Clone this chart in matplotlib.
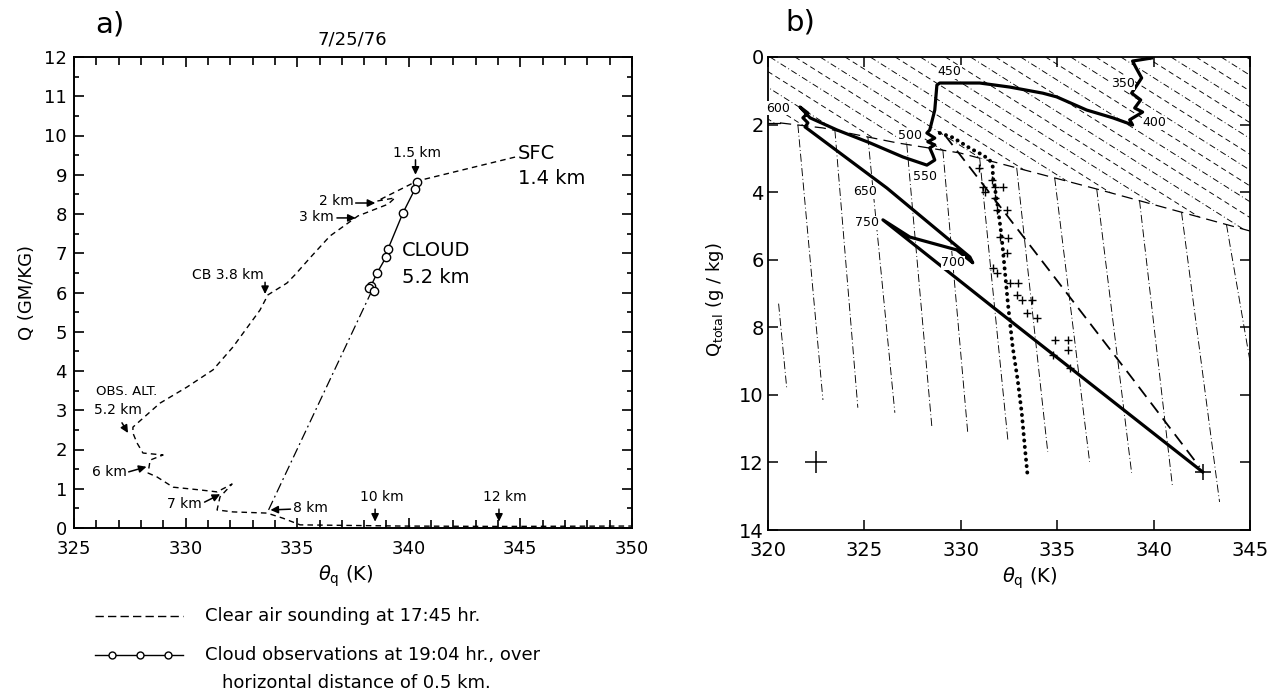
import numpy as np
import matplotlib
matplotlib.use('Agg')
from matplotlib import pyplot as plt
from matplotlib.lines import Line2D
from matplotlib.patches import Polygon
from matplotlib.ticker import MultipleLocator

W, H = 1283, 694

# ---- panel a: 7/25/76 ----
# clear air sounding at 17:45 (theta_q K, Q g/kg), from SFC upward
sounding_theta = [344.76, 340.37, 338.58, 339.38, 339.07, 337.72, 336.47, 335.57, 334.90, 334.54,
                  333.69, 333.33, 332.12, 331.23, 330.06, 328.85, 327.64, 327.64, 327.82, 328.09,
                  328.99, 328.41, 328.32, 328.72, 329.44, 330.65, 331.41, 332.08, 331.54, 331.41,
                  332.12, 333.65, 334.36, 335.13, 339.60, 344.10, 350.00]
sounding_q = [9.45, 8.84, 8.33, 8.41, 8.25, 7.95, 7.44, 6.88, 6.45, 6.24,
              5.94, 5.55, 4.61, 4.03, 3.59, 3.18, 2.57, 2.42, 2.17, 1.91,
              1.86, 1.73, 1.40, 1.30, 1.04, 0.97, 0.92, 1.12, 0.79, 0.46,
              0.41, 0.38, 0.25, 0.08, 0.05, 0.04, 0.05]

# cloud observations at 19:04
cloud_theta = [340.37, 340.28, 339.74, 339.07, 338.98, 338.58, 338.31, 338.22, 338.44]
cloud_q = [8.82, 8.64, 8.03, 7.11, 6.90, 6.50, 6.17, 6.11, 6.04]

# mixing line cloud -> 8 km
mix_theta = [338.35, 333.65]
mix_q = [6.05, 0.38]

# altitude labels: text, text pos, arrow tail, arrow tip
alt_labels = [
    ('1.5 km', (340.37, 9.55), (340.30, 9.38), (340.30, 9.00)),
    ('2 km', (336.75, 8.33), (337.62, 8.28), (338.50, 8.28)),
    ('3 km', (335.85, 7.92), (336.78, 7.90), (337.62, 7.90)),
    ('CB 3.8 km', (331.90, 6.45), (333.56, 6.26), (333.56, 5.96)),
    ('6 km', (326.60, 1.43), (327.45, 1.43), (328.25, 1.56)),
    ('7 km', (329.95, 0.61), (330.85, 0.66), (331.55, 0.86)),
    ('8 km', (335.60, 0.50), (334.70, 0.48), (333.80, 0.46)),
    ('10 km', (338.80, 0.79), (338.49, 0.48), (338.49, 0.16)),
    ('12 km', (344.30, 0.79), (344.04, 0.48), (344.04, 0.16)),
]

# ---- panel b ----
# thick sounding line, labelled by pressure (mb)
prof_theta = [339.90, 338.91, 339.07, 339.38, 338.86, 339.33, 339.02, 339.43, 338.76, 338.91,
              337.88, 336.53, 334.97, 334.25, 332.54, 330.98, 328.91, 328.76, 328.65, 328.39,
              328.24, 328.65, 328.29, 328.65, 328.39, 328.55, 328.65, 328.24, 327.00, 325.28,
              323.58, 322.18, 321.66, 322.07, 321.81, 322.07, 321.92, 326.17, 330.47, 330.62,
              329.79, 327.36, 325.96, 331.66, 342.54]
prof_q = [0.03, 0.12, 0.30, 0.62, 1.07, 1.27, 1.51, 1.63, 1.86, 2.01,
          1.80, 1.57, 1.18, 1.07, 0.89, 0.77, 0.77, 0.83, 1.57, 2.16,
          2.25, 2.40, 2.51, 2.60, 2.69, 2.90, 3.05, 3.20, 2.96, 2.54,
          2.16, 1.80, 1.48, 1.66, 1.80, 1.95, 2.07, 3.88, 5.92, 6.09,
          5.71, 5.33, 4.82, 7.40, 12.28]

level_text = ['350', '400', '450', '500', '550', '600', '650', '700', '750']
level_theta = [338.40, 340.05, 329.43, 327.36, 328.13, 320.52, 325.03, 329.59, 325.13]
level_q = [0.77, 1.95, 0.44, 2.31, 3.55, 1.51, 3.99, 6.09, 4.91]

# dotted line
dot_theta = [328.91, 329.53, 329.95, 330.36, 330.83, 331.14, 331.50, 331.66, 331.66, 331.76,
             331.92, 332.12, 332.28, 332.44, 332.69, 332.95, 333.16, 333.32, 333.47]
dot_q = [2.25, 2.37, 2.51, 2.66, 2.81, 2.90, 3.05, 3.25, 3.55, 3.85,
         4.44, 5.33, 6.30, 7.28, 8.58, 9.56, 10.53, 11.54, 12.43]

# crosses
plus_theta = [330.93, 331.61, 331.14, 331.76, 332.18, 331.24, 331.76, 331.87, 332.38, 332.02,
              332.44, 332.38, 331.66, 331.87, 332.54, 332.95, 332.90, 333.16, 333.68, 333.42,
              333.94, 334.87, 335.54, 335.54, 334.77, 335.65]
plus_q = [3.28, 3.64, 3.85, 3.85, 3.85, 3.99, 4.17, 4.53, 4.53, 5.33,
          5.36, 5.80, 6.24, 6.39, 6.69, 6.69, 7.04, 7.19, 7.19, 7.57,
          7.72, 8.37, 8.37, 8.67, 8.82, 9.20]

# long dashed line
dash_theta = [329.17, 332.18, 334.97, 338.76, 342.38]
dash_q = [2.31, 4.53, 6.60, 9.41, 12.13]

# boundary of the hatched region
boundary_theta = [320.00, 320.62, 322.85, 326.68, 329.95, 337.20, 345.00]
boundary_q = [1.95, 1.95, 2.10, 2.54, 2.84, 3.93, 5.15]

# hatch lines above boundary (start theta on Q=0), slope in g/kg per K
hatch_start = [313.6, 314.9, 316.2, 317.5, 318.8, 320.1, 321.4, 322.7, 324.0, 325.3,
               326.6, 327.9, 329.2, 330.5, 331.8, 333.1, 334.4, 335.7, 337.0, 338.3,
               339.6, 340.9, 342.2, 343.5, 344.8]
hatch_slope = 0.36

# near vertical dash-dot lines below boundary
vert_top_theta = [320.55, 321.55, 323.47, 325.18, 327.20, 329.07, 330.98, 332.90, 334.87,
                  337.05, 339.27, 341.45, 343.78]
vert_top_q = [7.30, 2.01, 2.17, 2.37, 2.59, 2.76, 3.00, 3.28, 3.58, 3.91, 4.25, 4.60, 4.96]
vert_bot_theta = [320.98, 322.85, 324.66, 326.58, 328.50, 330.36, 332.44, 334.51, 336.68,
                  338.86, 340.98, 343.42, 345.60]
vert_bot_q = [9.85, 10.15, 10.38, 10.53, 10.95, 11.12, 11.33, 11.69, 11.98, 12.31, 12.72,
              13.17, 11.00]


def fxy(x, y):
    return x / W, 1 - y / H


plt.rcParams['font.family'] = 'DejaVu Sans'
fig = plt.figure(figsize=(W / 100, H / 100), dpi=100)

# ================= panel a =================
axa = fig.add_axes([74 / W, 1 - 528 / H, (632 - 74) / W, (528 - 57) / H])
axa.plot(sounding_theta, sounding_q, color='k', lw=1.0, ls=(0, (4, 3)))
axa.plot(mix_theta, mix_q, color='k', lw=0.9, ls=(0, (8, 3, 1.5, 3)))
axa.plot(cloud_theta, cloud_q, color='k', lw=1.0, marker='o', mfc='white', mec='k', ms=6, mew=1)
axa.set_xlim(325, 350)
axa.set_ylim(0, 12)
axa.set_xticks([325, 330, 335, 340, 345, 350])
axa.set_yticks(range(0, 13))
axa.xaxis.set_minor_locator(MultipleLocator(1))
axa.yaxis.set_minor_locator(MultipleLocator(0.5))
axa.tick_params(which='both', direction='in', top=True, right=True, width=1.2, labelsize=13)
axa.tick_params(which='major', length=7)
axa.tick_params(axis='x', which='major', pad=8.5)
axa.tick_params(axis='y', which='major', pad=5)
axa.tick_params(axis='x', which='minor', length=6)
axa.tick_params(axis='y', which='minor', length=3.5)
for s in axa.spines.values():
    s.set_linewidth(1.4)

arrow_kw = dict(arrowstyle='-|>,head_length=0.45,head_width=0.22', color='k', lw=1.1,
                shrinkA=0, shrinkB=0)
for txt, tpos, tail, tip in alt_labels:
    axa.text(tpos[0], tpos[1], txt, fontsize=10, ha='center', va='center')
    axa.annotate('', xy=tip, xytext=tail, arrowprops=arrow_kw)

axa.text(327.37, 3.47, 'OBS. ALT.', fontsize=9.5, ha='center', va='center')
axa.text(326.97, 3.00, '5.2 km', fontsize=10, ha='center', va='center')
axa.annotate('', xy=(327.42, 2.42), xytext=(327.15, 2.68), arrowprops=arrow_kw)
axa.text(344.9, 9.53, 'SFC', fontsize=14, ha='left', va='center')
axa.text(344.9, 8.90, '1.4 km', fontsize=14, ha='left', va='center')
axa.text(339.7, 7.08, 'CLOUD', fontsize=14, ha='left', va='center')
axa.text(339.7, 6.39, '5.2 km', fontsize=14, ha='left', va='center')

fig.text(*fxy(352, 40), '7/25/76', fontsize=13, ha='center', va='center')
fig.text(*fxy(110, 24), 'a)', fontsize=21, ha='center', va='center')
fig.text(*fxy(27, 293), 'Q (GM/KG)', fontsize=13, rotation=90, ha='center', va='center')
fig.text(*fxy(346, 576), r'$\theta_{\mathrm{q}}$ (K)', fontsize=14, ha='center', va='center')

# legend below panel a
fig.add_artist(Line2D([95 / W, 183 / W], [1 - 616 / H] * 2, transform=fig.transFigure,
                      color='k', lw=1.0, ls=(0, (6, 3))))
fig.text(*fxy(205, 616), 'Clear air sounding at 17:45 hr.', fontsize=13, ha='left', va='center')
fig.add_artist(Line2D([95 / W, 183 / W], [1 - 655 / H] * 2, transform=fig.transFigure,
                      color='k', lw=1.0))
fig.add_artist(Line2D([112 / W, 140 / W, 168 / W], [1 - 655 / H] * 3, transform=fig.transFigure,
                      color='k', lw=0, marker='o', mfc='white', mec='k', ms=5, mew=1))
fig.text(*fxy(205, 655), 'Cloud observations at 19:04 hr., over', fontsize=13,
         ha='left', va='center')
fig.text(*fxy(222, 683), 'horizontal distance of 0.5 km.', fontsize=13, ha='left', va='center')

# ================= panel b =================
axb = fig.add_axes([768 / W, 1 - 530 / H, (1250 - 768) / W, (530 - 57) / H])
axb.set_xlim(320, 345)
axb.set_ylim(14, 0)

region = [(320, 0), (345, 0)] + list(zip(boundary_theta[::-1], boundary_q[::-1]))
clip_poly = Polygon(region, closed=True, transform=axb.transData, fc='none', ec='none')
axb.add_patch(clip_poly)
for i, t0 in enumerate(hatch_start):
    ls = (0, (6, 4)) if i % 2 == 0 else (0, (7, 3, 1, 3))
    ln, = axb.plot([t0, t0 + 14 / hatch_slope], [0, 14], color='k', lw=0.65, ls=ls, zorder=1)
    ln.set_clip_path(clip_poly)

axb.plot(boundary_theta[1:], boundary_q[1:], color='k', lw=0.9, ls=(0, (9, 5)), zorder=1)
axb.plot(boundary_theta[:2], boundary_q[:2], color='k', lw=0.9, zorder=1)

for tt, tq, bt, bq in zip(vert_top_theta, vert_top_q, vert_bot_theta, vert_bot_q):
    axb.plot([tt, bt], [tq, bq], color='k', lw=0.65, ls=(0, (9, 3, 1, 3)), zorder=1)

axb.plot(dash_theta, dash_q, color='k', lw=1.3, ls=(0, (7, 4)), zorder=2)
axb.plot(dot_theta, dot_q, color='k', lw=2.8, ls=(0, (0.05, 1.6)), dash_capstyle='round', zorder=3)
axb.plot(plus_theta, plus_q, ls='none', marker='+', color='k', ms=6, mew=1.0, zorder=3)
axb.plot(prof_theta, prof_q, color='k', lw=2.3, solid_joinstyle='round', zorder=4)
axb.plot([322.5], [12.0], marker='+', color='k', ms=16, mew=1.1)
axb.plot([342.54], [12.28], marker='+', color='k', ms=12, mew=1.1, zorder=5)

for txt, lt, lq in zip(level_text, level_theta, level_q):
    axb.text(lt, lq, txt, fontsize=9, ha='center', va='center', zorder=6,
             bbox=dict(fc='white', ec='none', pad=0.3))

axb.set_xticks([320, 325, 330, 335, 340, 345])
axb.set_yticks([0, 2, 4, 6, 8, 10, 12, 14])
axb.tick_params(direction='in', top=True, right=True, length=7, width=1.1, labelsize=14)
axb.tick_params(axis='x', pad=8)
axb.tick_params(axis='y', pad=3)
for s in axb.spines.values():
    s.set_linewidth(1.3)

fig.text(*fxy(800, 22), 'b)', fontsize=21, ha='center', va='center')
fig.text(*fxy(715, 300), r'Q$_{\mathrm{total}}$ (g / kg)', fontsize=13, rotation=90,
         ha='center', va='center')
fig.text(*fxy(1030, 578), r'$\theta_{\mathrm{q}}$ (K)', fontsize=14, ha='center', va='center')

fig.savefig('out.png', dpi=100)
